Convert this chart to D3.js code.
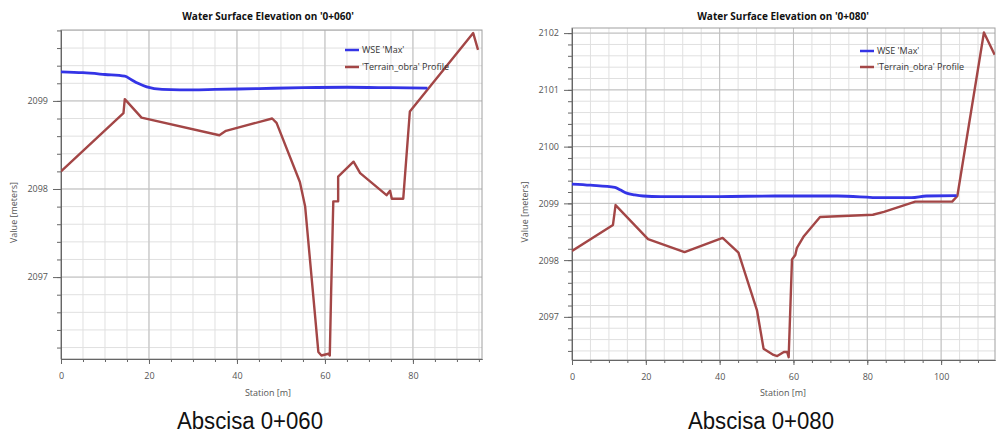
<!DOCTYPE html>
<html>
<head>
<meta charset="utf-8">
<script src="https://cdn.jsdelivr.net/npm/d3@7"></script>
<style>
  body { margin: 0; background: #fff; }
  svg { display: block; font-family: "Open Sans", "DejaVu Sans", sans-serif; }
</style>
</head>
<body>
<svg id="chart" width="997" height="439"></svg>
<script>
// Series as [station (m), elevation (m)]
const wse060 = [
  [0, 2099.33], [5, 2099.32], [10, 2099.30], [14.5, 2099.28], [16, 2099.24],
  [17.5, 2099.20], [19.5, 2099.16], [23, 2099.13], [27, 2099.125], [35, 2099.13],
  [45, 2099.14], [55, 2099.15], [65, 2099.155], [75, 2099.15], [83.3, 2099.145]
];
const terrain060 = [
  [0, 2098.20], [14.2, 2098.86], [14.5, 2099.02], [18.3, 2098.81], [36, 2098.61],
  [37.5, 2098.66], [48, 2098.80], [49, 2098.75], [54.3, 2098.08], [55.5, 2097.80],
  [58.5, 2096.15], [59.2, 2096.11], [60.8, 2096.13], [61.1, 2096.11], [61.4, 2096.82],
  [61.9, 2097.86], [63.0, 2097.86], [63.0, 2098.14], [66.5, 2098.31], [68, 2098.18],
  [74, 2097.93], [74.8, 2097.98], [75.2, 2097.89], [77.8, 2097.89], [79.3, 2098.88],
  [93.7, 2099.77], [94.8, 2099.58]
];
const wse080 = [
  [0, 2099.34], [5, 2099.32], [11.6, 2099.28], [13, 2099.24], [14.8, 2099.18],
  [17, 2099.15], [19.3, 2099.13], [24, 2099.12], [40, 2099.12], [55, 2099.13],
  [65, 2099.13], [72, 2099.13], [84, 2099.10], [92, 2099.10], [96, 2099.13],
  [104.2, 2099.135]
];
const terrain080 = [
  [0, 2098.16], [11.1, 2098.62], [11.8, 2098.97], [20.6, 2098.37], [30.5, 2098.14],
  [40.8, 2098.39], [45.1, 2098.13], [50.1, 2097.12], [51.9, 2096.44], [54.6, 2096.33],
  [55.6, 2096.31], [57.4, 2096.38], [58.3, 2096.38], [58.7, 2096.29], [59.6, 2098.01],
  [60.5, 2098.09], [60.9, 2098.21], [62.7, 2098.41], [67.2, 2098.76], [81.5, 2098.80],
  [84.5, 2098.85], [93, 2099.03], [103, 2099.03], [104.4, 2099.13], [111.6, 2102.01],
  [114.5, 2101.62]
];

const seriesNames = ["WSE 'Max'", "'Terrain_obra' Profile"];
const xTicks060 = [0, 20, 40, 60, 80];
const yTicks060 = [2097, 2098, 2099];
const xTicks080 = [0, 20, 40, 60, 80, 100];
const yTicks080 = [2097, 2098, 2099, 2100, 2101, 2102];

const svg = d3.select('#chart');
const wseColor = '#3434e6';
const terrainColor = '#a34646';

function drawPanel(p) {
  const x = d3.scaleLinear().domain(p.xDomain).range([p.left, p.right]);
  const y = d3.scaleLinear().domain(p.yDomain).range([p.bottom, p.top]);
  const g = svg.append('g');

  // minor grid
  const xMinor = d3.range(0, p.xDomain[1], 5);
  const yMinor = d3.range(Math.ceil(p.yDomain[0] * 5) / 5, p.yDomain[1], 0.2);
  g.append('g').selectAll('line').data(xMinor).join('line')
    .attr('x1', d => x(d)).attr('x2', d => x(d))
    .attr('y1', p.top).attr('y2', p.bottom)
    .attr('stroke', '#e0e0e0').attr('stroke-width', 1);
  g.append('g').selectAll('line').data(yMinor).join('line')
    .attr('x1', p.left).attr('x2', p.right)
    .attr('y1', d => y(d)).attr('y2', d => y(d))
    .attr('stroke', '#e0e0e0').attr('stroke-width', 1);
  // major grid
  g.append('g').selectAll('line').data(p.xTicks).join('line')
    .attr('x1', d => x(d)).attr('x2', d => x(d))
    .attr('y1', p.top).attr('y2', p.bottom)
    .attr('stroke', '#c0c0c0').attr('stroke-width', 1);
  g.append('g').selectAll('line').data(p.yTicks).join('line')
    .attr('x1', p.left).attr('x2', p.right)
    .attr('y1', d => y(d)).attr('y2', d => y(d))
    .attr('stroke', '#c0c0c0').attr('stroke-width', 1);

  // frame
  g.append('rect')
    .attr('x', p.left).attr('y', p.top)
    .attr('width', p.right - p.left).attr('height', p.bottom - p.top)
    .attr('fill', 'none').attr('stroke', '#a0a0a0');

  // axes
  const tickStyle = sel => {
    sel.select('.domain').attr('stroke', '#666');
    sel.selectAll('.tick line').attr('stroke', '#666');
    sel.selectAll('.tick text').attr('fill', '#555').attr('font-size', '9px')
      .attr('font-family', '"Open Sans", sans-serif');
  };
  g.append('g').attr('transform', `translate(0,${p.bottom})`)
    .call(d3.axisBottom(x).tickValues(xMinor).tickSize(3).tickFormat('').tickSizeOuter(0))
    .call(tickStyle);
  g.append('g').attr('transform', `translate(0,${p.bottom})`)
    .call(d3.axisBottom(x).tickValues(p.xTicks).tickSize(5).tickPadding(9).tickSizeOuter(0))
    .call(tickStyle);
  g.append('g').attr('transform', `translate(${p.left},0)`)
    .call(d3.axisLeft(y).tickValues(yMinor).tickSize(4).tickFormat('').tickSizeOuter(0))
    .call(tickStyle);
  g.append('g').attr('transform', `translate(${p.left},0)`)
    .call(d3.axisLeft(y).tickValues(p.yTicks).tickSize(8).tickPadding(5).tickFormat(d3.format('d')).tickSizeOuter(0))
    .call(tickStyle);

  // lines
  const clipId = 'clip' + p.id;
  svg.append('clipPath').attr('id', clipId).append('rect')
    .attr('x', p.left).attr('y', p.top - 2)
    .attr('width', p.right - p.left).attr('height', p.bottom - p.top + 4);
  const line = d3.line().x(d => x(d[0])).y(d => y(d[1]));
  g.append('path').datum(p.terrain)
    .attr('clip-path', `url(#${clipId})`)
    .attr('d', line).attr('fill', 'none')
    .attr('stroke', terrainColor).attr('stroke-width', 2.4).attr('stroke-linejoin', 'round');
  g.append('path').datum(p.wse)
    .attr('clip-path', `url(#${clipId})`)
    .attr('d', line.curve(d3.curveMonotoneX)).attr('fill', 'none')
    .attr('stroke', wseColor).attr('stroke-width', 2.8);

  // legend
  const colors = [wseColor, terrainColor];
  seriesNames.forEach((name, i) => {
    const ly = p.legendY[i];
    g.append('line').attr('x1', p.legendX).attr('x2', p.legendX + 14)
      .attr('y1', ly).attr('y2', ly)
      .attr('stroke', colors[i]).attr('stroke-width', 2.5);
    g.append('text').attr('x', p.legendX + 17).attr('y', ly + 3)
      .attr('font-size', '9px').attr('fill', '#333').text(name);
  });

  // titles and labels
  g.append('text').attr('x', p.titleX).attr('y', 20)
    .attr('text-anchor', 'middle').attr('font-size', '10px').attr('font-weight', 'bold')
    .attr('fill', '#111').text(p.title);
  g.append('text').attr('x', p.titleX).attr('y', 396)
    .attr('text-anchor', 'middle').attr('font-size', '9px').attr('fill', '#555')
    .text('Station [m]');
  g.append('text').attr('transform', `translate(${p.left - 44},${(p.top + p.bottom) / 2 + 18}) rotate(-90)`)
    .attr('text-anchor', 'middle').attr('font-size', '9px').attr('fill', '#555')
    .text('Value [meters]');
  g.append('text').attr('x', p.captionX).attr('y', 429)
    .attr('text-anchor', 'middle').attr('font-size', '23px')
    .attr('font-family', '"Liberation Sans", Arial, sans-serif')
    .attr('textLength', 146).attr('lengthAdjust', 'spacingAndGlyphs')
    .attr('fill', '#111').text(p.caption);
}

drawPanel({
  id: 'a', left: 61, right: 482, top: 30, bottom: 359,
  xDomain: [0, 95.7], yDomain: [2096.07, 2099.805],
  xTicks: xTicks060, yTicks: yTicks060,
  wse: wse060, terrain: terrain060,
  legendX: 345, legendY: [50, 67],
  title: "Water Surface Elevation on '0+060'", titleX: 268,
  caption: 'Abscisa 0+060', captionX: 250
});
drawPanel({
  id: 'b', left: 572, right: 995, top: 28, bottom: 360,
  xDomain: [0, 114.6], yDomain: [2096.24, 2102.09],
  xTicks: xTicks080, yTicks: yTicks080,
  wse: wse080, terrain: terrain080,
  legendX: 860, legendY: [51, 67],
  title: "Water Surface Elevation on '0+080'", titleX: 783,
  caption: 'Abscisa 0+080', captionX: 761
});
</script>
</body>
</html>
